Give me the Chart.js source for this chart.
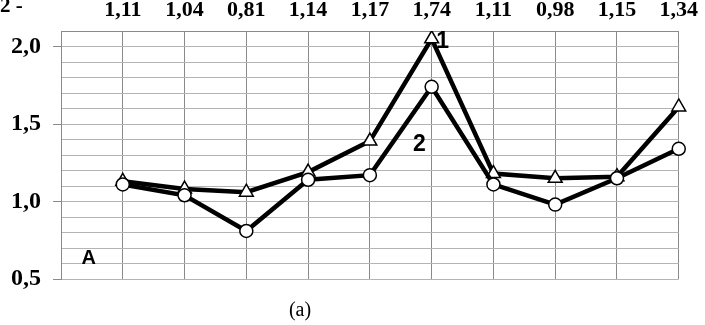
<!DOCTYPE html>
<html>
<head>
<meta charset="utf-8">
<script src="https://cdn.jsdelivr.net/npm/chart.js@4.4.1/dist/chart.umd.min.js"></script>
<style>
    html, body { margin: 0; padding: 0; background: #fff; }
    #wrap { width: 705px; height: 325px; }
</style>
</head>
<body>
<div id="wrap"><canvas id="chart"></canvas></div>
<script>
// top labels (values of curve 2)
const topLabels = ['1,11', '1,04', '0,81', '1,14', '1,17', '1,74', '1,11', '0,98', '1,15', '1,34'];
// curve 1 (triangles)
const curve1 = [1.13, 1.08, 1.06, 1.19, 1.39, 2.05, 1.18, 1.15, 1.16, 1.61];
// curve 2 (circles)
const curve2 = [1.11, 1.04, 0.81, 1.14, 1.17, 1.74, 1.11, 0.98, 1.15, 1.34];
// y tick labels
const yLabels = { '0.5': '0,5', '1.0': '1,0', '1.5': '1,5', '2.0': '2,0' };

// first slot is empty so the points start one step in from the axis
const labels = [''].concat(topLabels);

const serif = '"Liberation Serif", "Times New Roman", serif';
const sans = '"Liberation Sans", Arial, sans-serif';

// texts inside the plot
const notes = {
    id: 'notes',
    afterDraw(chart) {
        const c = chart.ctx;
        const x = chart.scales.x;
        const y = chart.scales.y;
        const px = (i) => x.left + (x.right - x.left) * i / (labels.length - 1);
        c.save();
        c.fillStyle = '#000';
        c.textAlign = 'center';
        c.textBaseline = 'middle';
        c.font = 'bold 23px ' + sans;
        c.fillText('1', px(6.18), y.getPixelForValue(2.03));
        c.fillText('2', px(5.8), y.getPixelForValue(1.365));
        c.font = 'bold 20px ' + sans;
        c.fillText('A', px(0.45), y.getPixelForValue(0.63));
        c.font = '20px ' + serif;
        c.fillText('(a)', 300, 311);
        c.textAlign = 'left';
        c.textBaseline = 'alphabetic';
        c.font = 'bold 21px ' + serif;
        c.fillText('2 -', 0, 12);
        c.restore();
    }
};

const ctx = document.getElementById('chart').getContext('2d');

new Chart(ctx, {
    type: 'line',
    data: {
        labels: labels,
        datasets: [{
            label: '2',
            data: [null].concat(curve2),
            borderColor: '#000',
            borderWidth: 4.5,
            pointStyle: 'circle',
            pointRadius: 6.5,
            pointBackgroundColor: '#fff',
            pointBorderColor: '#000',
            pointBorderWidth: 1.5,
            tension: 0
        }, {
            label: '1',
            data: [null].concat(curve1),
            borderColor: '#000',
            borderWidth: 4.5,
            pointStyle: 'triangle',
            pointRadius: 8,
            pointBackgroundColor: '#fff',
            pointBorderColor: '#000',
            pointBorderWidth: 1.5,
            tension: 0
        }]
    },
    options: {
        responsive: true,
        maintainAspectRatio: false,
        animation: false,
        layout: { padding: { left: 0, right: 20, top: 0, bottom: 46 } },
        plugins: {
            legend: { display: false },
            tooltip: { enabled: false }
        },
        scales: {
            x: {
                position: 'top',
                offset: false,
                afterFit: (s) => { s.height = 31; },
                grid: { color: '#8a8a8a', lineWidth: 1, drawTicks: false },
                border: { color: '#8a8a8a' },
                ticks: {
                    color: '#000',
                    font: { family: serif, size: 22, weight: 'bold' },
                    padding: 7,
                    maxRotation: 0,
                    autoSkip: false
                }
            },
            y: {
                min: 0.5,
                max: 2.1,
                afterFit: (s) => { s.width = 61; },
                grid: {
                    color: '#b4b4b4',
                    lineWidth: 1,
                    tickLength: 8,
                    tickColor: (c) => (c.tick && c.tick.label) ? '#8a8a8a' : 'rgba(0,0,0,0)'
                },
                border: { color: '#8a8a8a' },
                ticks: {
                    stepSize: 0.1,
                    maxTicksLimit: 30,
                    autoSkip: false,
                    padding: 12,
                    color: '#000',
                    font: { family: serif, size: 24, weight: 'bold' },
                    callback: (v) => yLabels[Number(v).toFixed(1)] || ''
                }
            }
        }
    },
    plugins: [notes]
});
</script>
</body>
</html>
